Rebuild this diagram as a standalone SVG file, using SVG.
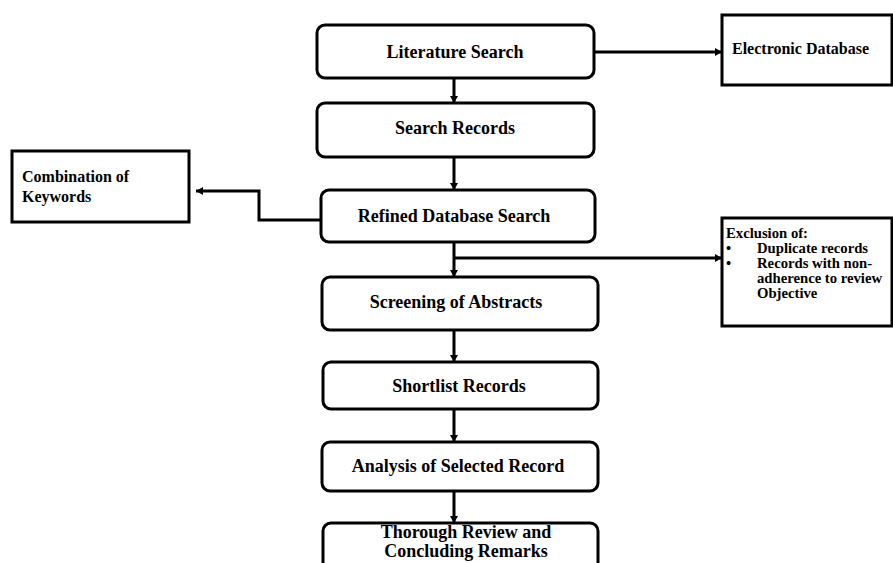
<svg xmlns="http://www.w3.org/2000/svg" width="893" height="563" viewBox="0 0 893 563">
  <style>
    .step { fill: #fff; stroke: #000; stroke-width: 3; }
    .side { fill: #fff; stroke: #000; stroke-width: 3; }
    .t { font-family: "Liberation Serif", "Times New Roman", serif; font-weight: bold; fill: #000; }
    .main { font-size: 18px; text-anchor: middle; }
    .note { font-size: 16px; }
    .small { font-size: 14.7px; }
    .link { fill: none; stroke: #000; stroke-width: 3; }
  </style>
  <defs>
    <marker id="head" markerUnits="userSpaceOnUse" markerWidth="9" markerHeight="9" refX="7" refY="4.5" orient="auto">
      <path d="M0,0.5 L7,4.5 L0,8.5 Z" fill="#000"/>
    </marker>
  </defs>
  <rect width="893" height="563" fill="#fff"/>

  <g id="connectors">
    <line class="link" x1="454" y1="78" x2="454" y2="103" marker-end="url(#head)"/>
    <line class="link" x1="454" y1="157" x2="454" y2="190" marker-end="url(#head)"/>
    <line class="link" x1="454" y1="242" x2="454" y2="277" marker-end="url(#head)"/>
    <line class="link" x1="454" y1="330" x2="454" y2="362" marker-end="url(#head)"/>
    <line class="link" x1="454" y1="409" x2="454" y2="442" marker-end="url(#head)"/>
    <line class="link" x1="454" y1="491" x2="454" y2="523" stroke-width="4.5" marker-end="url(#head)"/>
    <line class="link" x1="594" y1="52" x2="722" y2="52" marker-end="url(#head)"/>
    <path class="link" d="M321 220 H259 V191 H196" marker-end="url(#head)"/>
    <line class="link" x1="454" y1="258" x2="722" y2="258" marker-end="url(#head)"/>
  </g>

  <g id="literature-search">
    <rect class="step" x="317" y="25" width="277" height="53" rx="8"/>
    <text class="t main" x="455" y="58">Literature Search</text>
  </g>
  <g id="search-records">
    <rect class="step" x="317" y="103" width="277" height="54" rx="8"/>
    <text class="t main" x="455" y="134">Search Records</text>
  </g>
  <g id="refined-search">
    <rect class="step" x="321" y="190" width="274" height="52" rx="8"/>
    <text class="t main" x="454" y="222" font-size="19.5">Refined Database Search</text>
  </g>
  <g id="screening">
    <rect class="step" x="322" y="277" width="276" height="53" rx="8"/>
    <text class="t main" x="456" y="308">Screening of Abstracts</text>
  </g>
  <g id="shortlist">
    <rect class="step" x="323" y="362" width="275" height="47" rx="8"/>
    <text class="t main" x="459" y="392">Shortlist Records</text>
  </g>
  <g id="analysis">
    <rect class="step" x="322" y="442" width="276" height="49" rx="8"/>
    <text class="t main" x="458" y="472">Analysis of Selected Record</text>
  </g>
  <g id="review">
    <rect class="step" x="323" y="523" width="275" height="70" rx="8"/>
    <text class="t main" x="466" y="538" font-size="17">Thorough Review and</text>
    <text class="t main" x="466" y="557" font-size="17">Concluding Remarks</text>
  </g>

  <g id="electronic-database">
    <rect class="side" x="722" y="15" width="170" height="70"/>
    <text class="t note" x="732" y="54" font-size="15.7">Electronic Database</text>
  </g>
  <g id="keywords">
    <rect class="side" x="12" y="151" width="177" height="71"/>
    <text class="t note" x="22" y="182">Combination of</text>
    <text class="t note" x="22" y="202">Keywords</text>
  </g>
  <g id="exclusion">
    <rect class="side" x="722" y="218" width="170" height="108"/>
    <text class="t small" x="726" y="238">Exclusion of:</text>
    <text class="t small" x="726" y="253">•</text>
    <text class="t small" x="757" y="253">Duplicate records</text>
    <text class="t small" x="726" y="268">•</text>
    <text class="t small" x="757" y="268">Records with non-</text>
    <text class="t small" x="757" y="283">adherence to review</text>
    <text class="t small" x="757" y="298">Objective</text>
  </g>
</svg>
